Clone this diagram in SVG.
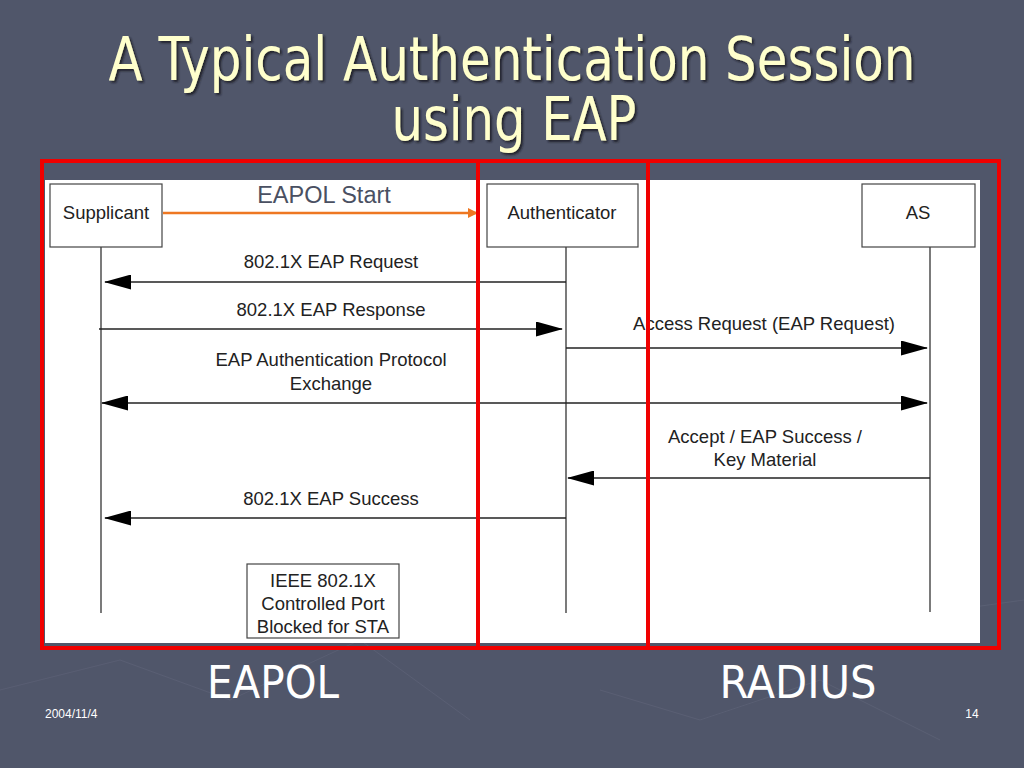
<svg xmlns="http://www.w3.org/2000/svg" width="1024" height="768" viewBox="0 0 1024 768">
<defs>
<style>
.bg{fill:#50566a}
.node rect{fill:#ffffff;stroke:#444444;stroke-width:1.2}
.lbl{font-family:"Liberation Sans",Arial,sans-serif;font-size:18.5px;fill:#222222;text-anchor:middle}
.life{stroke:#333333;stroke-width:1.3}
.msg{stroke:#222222;stroke-width:1.3;fill:none}
.red{fill:none;stroke:#f00000;stroke-width:4}
.title{font-family:"DejaVu Sans Condensed","DejaVu Sans",sans-serif;font-size:60px;fill:#ffffcc;text-anchor:middle}
.big{font-family:"DejaVu Sans Condensed","DejaVu Sans",sans-serif;font-size:45px;fill:#ffffff;text-anchor:middle}
.foot{font-family:"Liberation Sans",Arial,sans-serif;font-size:12px;fill:#ffffff}
</style>
<filter id="shadow" x="-5%" y="-20%" width="110%" height="140%">
<feDropShadow dx="2" dy="2" stdDeviation="0.8" flood-color="#15171f" flood-opacity="0.85"/>
</filter>
<marker id="ah" markerUnits="userSpaceOnUse" markerWidth="27" markerHeight="15" viewBox="0 0 27 15" refX="26" refY="7.5" orient="auto-start-reverse">
<path d="M0,0 L27,7.5 L0,15 Z" fill="#000000"/>
</marker>
<marker id="aho" markerUnits="userSpaceOnUse" markerWidth="10" markerHeight="10" viewBox="0 0 10 10" refX="9" refY="5" orient="auto">
<path d="M0,0 L10,5 L0,10 Z" fill="#ee7722"/>
</marker>
</defs>
<rect class="bg" x="0" y="0" width="1024" height="768"/>
<g opacity="0.12" stroke="#9aa0b4" stroke-width="1" fill="none">
<path d="M0,690 L120,660 L230,700 L360,640 L470,720"/>
<path d="M880,620 L1024,600"/>
<path d="M600,690 L700,720 L820,680 L940,740"/>
</g>
<g id="title" filter="url(#shadow)">
<text class="title" x="512" y="80" textLength="807" lengthAdjust="spacingAndGlyphs">A Typical Authentication Session</text>
<text class="title" x="514" y="140" textLength="245" lengthAdjust="spacingAndGlyphs">using EAP</text>
</g>
<rect x="45" y="180" width="935" height="463" fill="#ffffff"/>
<g id="lifelines">
<line class="life" x1="101" y1="247" x2="101" y2="613"/>
<line class="life" x1="566" y1="247" x2="566" y2="613"/>
<line class="life" x1="930" y1="247" x2="930" y2="612"/>
</g>
<g id="supplicant" class="node">
<rect x="50" y="184" width="112" height="63"/>
<text class="lbl" x="106" y="219">Supplicant</text>
</g>
<g id="authenticator" class="node">
<rect x="487" y="184" width="151" height="63"/>
<text class="lbl" x="562" y="219">Authenticator</text>
</g>
<g id="as" class="node">
<rect x="862" y="184" width="113" height="63"/>
<text class="lbl" x="918" y="219">AS</text>
</g>
<g id="port" class="node">
<rect x="247" y="564" width="152" height="74"/>
<text class="lbl" x="323" y="587">IEEE 802.1X</text>
<text class="lbl" x="323" y="610">Controlled Port</text>
<text class="lbl" x="323" y="633">Blocked for STA</text>
</g>
<g id="connectors">
<line x1="163" y1="213" x2="477" y2="213" stroke="#ee7722" stroke-width="2.5" marker-end="url(#aho)"/>
<text x="324" y="203" font-family="'Liberation Sans',Arial,sans-serif" font-size="23.5" fill="#4a5062" text-anchor="middle">EAPOL Start</text>
<line class="msg" x1="566" y1="282" x2="105" y2="282" marker-end="url(#ah)"/>
<text class="lbl" x="331" y="268">802.1X EAP Request</text>
<line class="msg" x1="99" y1="329" x2="562" y2="329" marker-end="url(#ah)"/>
<text class="lbl" x="331" y="316">802.1X EAP Response</text>
<line class="msg" x1="566" y1="348" x2="927" y2="348" marker-end="url(#ah)"/>
<text class="lbl" x="764" y="330">Access Request (EAP Request)</text>
<line class="msg" x1="102" y1="403" x2="927" y2="403" marker-start="url(#ah)" marker-end="url(#ah)"/>
<text class="lbl" x="331" y="366">EAP Authentication Protocol</text>
<text class="lbl" x="331" y="390">Exchange</text>
<line class="msg" x1="930" y1="478" x2="568" y2="478" marker-end="url(#ah)"/>
<text class="lbl" x="765" y="443">Accept / EAP Success /</text>
<text class="lbl" x="765" y="466">Key Material</text>
<line class="msg" x1="566" y1="518" x2="105" y2="518" marker-end="url(#ah)"/>
<text class="lbl" x="331" y="505">802.1X EAP Success</text>
</g>
<g id="regions">
<rect class="red" x="42" y="161" width="436" height="487"/>
<rect class="red" x="478" y="161" width="170" height="487"/>
<rect class="red" x="648" y="161" width="351" height="487"/>
</g>
<text class="big" x="273" y="698" textLength="132" lengthAdjust="spacingAndGlyphs">EAPOL</text>
<text class="big" x="798" y="698" textLength="157" lengthAdjust="spacingAndGlyphs">RADIUS</text>
<text class="foot" x="45" y="718">2004/11/4</text>
<text class="foot" x="972" y="718" text-anchor="middle">14</text>
</svg>
